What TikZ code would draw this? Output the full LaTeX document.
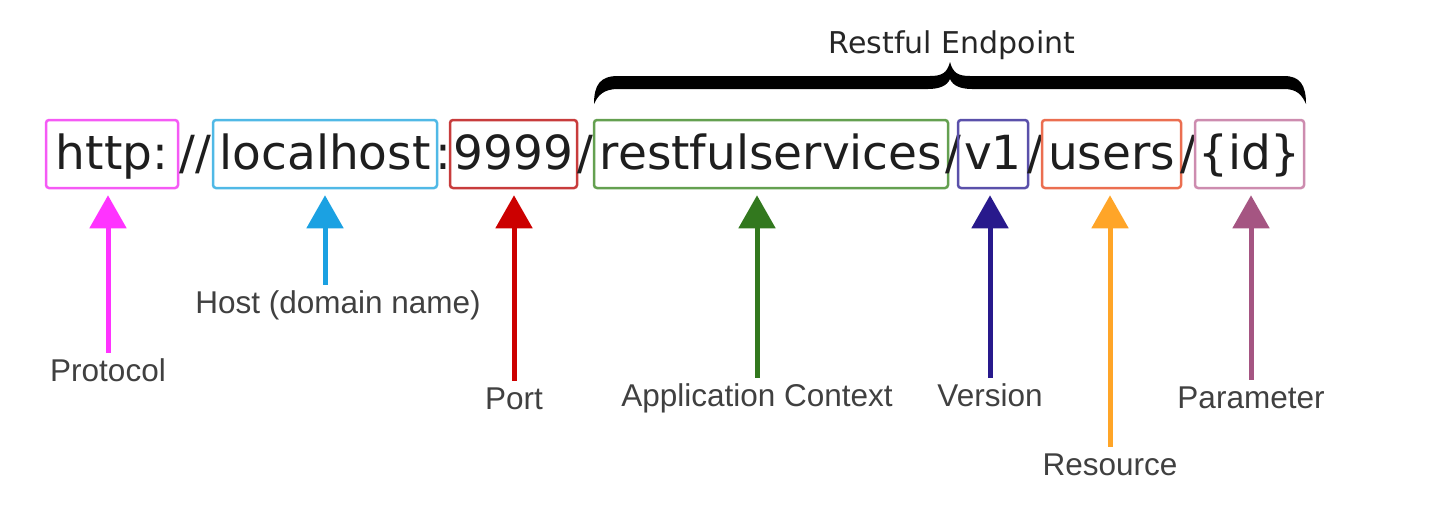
\documentclass[tikz,border=0pt]{standalone}
\usepackage{fontspec}
\setmainfont{Liberation Sans}
\newfontfamily\urlfont{DejaVu Sans}
\usetikzlibrary{arrows.meta,positioning}

\definecolor{protoArr}{RGB}{255,51,255}  \definecolor{protoBox}{RGB}{245,90,245}
\definecolor{hostArr}{RGB}{27,161,226}   \definecolor{hostBox}{RGB}{80,185,230}
\definecolor{portArr}{RGB}{204,0,0}      \definecolor{portBox}{RGB}{200,60,60}
\definecolor{appArr}{RGB}{50,120,30}     \definecolor{appBox}{RGB}{100,160,80}
\definecolor{verArr}{RGB}{40,25,140}     \definecolor{verBox}{RGB}{90,80,170}
\definecolor{resArr}{RGB}{255,165,40}    \definecolor{resBox}{RGB}{235,110,80}
\definecolor{parArr}{RGB}{165,85,130}    \definecolor{parBox}{RGB}{205,140,175}
\definecolor{urltext}{RGB}{30,30,30}

\tikzset{
  urlpart/.style={draw=#1, line width=2.5pt, rounded corners=3pt, inner sep=0pt,
    minimum height=68pt, text height=49pt, text depth=19pt, text=urltext,
    font=\urlfont\fontsize{47}{50}\selectfont},
  urlsep/.style={inner sep=0pt, anchor=base, text=urltext,
    font=\urlfont\fontsize{47}{50}\selectfont},
  partlabel/.style={anchor=base, inner sep=4pt, text height=24pt, text depth=7pt,
    text=black!75, font=\fontsize{31.5}{36}\selectfont},
  pointer/.style={draw=#1, line width=5pt, -{Triangle[length=33pt,width=36pt]},
    shorten >=6pt}
}

\begin{document}
\begin{tikzpicture}[x=1pt,y=-1pt]
\useasboundingbox (0,0) rectangle (1450,506);

% the url, piece by piece
\node[urlpart=protoBox, minimum width=132pt] (proto) at (112,154) {http:};
\node[urlsep] (sepa) at (195.5,169) {//};
\node[urlpart=hostBox, minimum width=224pt] (host) at (325,154) {localhost};
\node[urlsep] (sepb) at (443.5,169) {:};
\node[urlpart=portBox, minimum width=127pt] (port) at (513.5,154) {9999};
\node[urlsep] (sepc) at (585.5,169) {/};
\node[urlpart=appBox, minimum width=354pt] (app) at (771,154) {restfulservices};
\node[urlsep] (sepd) at (953,169) {/};
\node[urlpart=verBox, minimum width=70pt] (ver) at (993,154) {v1};
\node[urlsep] (sepe) at (1035,169) {/};
\node[urlpart=resBox, minimum width=139pt] (res) at (1111.5,154) {users};
\node[urlsep] (sepf) at (1188,169) {/};
\node[urlpart=parBox, minimum width=109pt] (par) at (1249.5,154) {\{id\}};

% brace over the endpoint (filled shape)
\fill[black] (594,104) .. controls (594,85) and (600,76) .. (618,76) -- (930,76)
  .. controls (942,76) and (947,73) .. (950,62) .. controls (953,73) and (958,76) .. (970,76)
  -- (1284,76) .. controls (1300,76) and (1306,85) .. (1306,104)
  .. controls (1302,95) and (1297,89) .. (1284,89) -- (972,89)
  .. controls (961,89) and (953,86) .. (950,79) .. controls (947,86) and (939,89) .. (928,89)
  -- (618,89) .. controls (604,89) and (598,95) .. (594,104) -- cycle;
\node[anchor=base, inner sep=0pt, text=black!85, font=\urlfont\fontsize{30}{34}\selectfont]
  (endpoint) at (952,53) {Restful Endpoint};

% labels
\node[partlabel] (lproto) at (108,381) {Protocol};
\node[partlabel] (lhost) at (338,313) {Host (domain name)};
\node[partlabel] (lport) at (514,409) {Port};
\node[partlabel] (lapp) at (757,406) {Application Context};
\node[partlabel] (lver) at (990,406) {Version};
\node[partlabel] (lres) at (1110,475) {Resource};
\node[partlabel] (lpar) at (1251,408) {Parameter};

% arrows
\draw[pointer=protoArr] (lproto.north) -- (lproto.north |- proto.south);
\draw[pointer=hostArr] (host.south |- lhost.north) -- (host.south);
\draw[pointer=portArr] (lport.north) -- (lport.north |- port.south);
\draw[pointer=appArr] (lapp.north) -- (lapp.north |- app.south);
\draw[pointer=verArr] (lver.north) -- (lver.north |- ver.south);
\draw[pointer=resArr] (lres.north) -- (lres.north |- res.south);
\draw[pointer=parArr] (lpar.north) -- (lpar.north |- par.south);
\end{tikzpicture}
\end{document}
